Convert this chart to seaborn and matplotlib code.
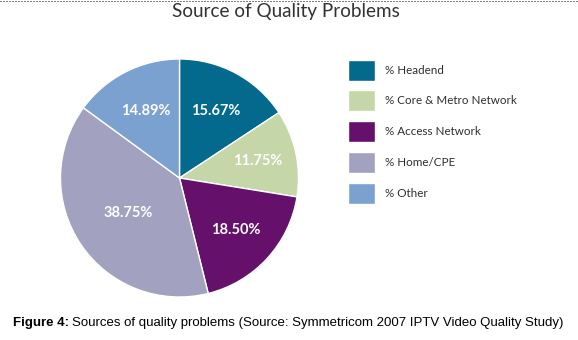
import matplotlib
matplotlib.use("Agg")
import matplotlib.pyplot as plt
import seaborn as sns
import numpy as np
from matplotlib.lines import Line2D

categories = ["% Headend", "% Core & Metro Network", "% Access Network", "% Home/CPE", "% Other"]
values = [15.67, 11.75, 18.50, 38.75, 14.89]
value_labels = ["15.67%", "11.75%", "18.50%", "38.75%", "14.89%"]
colors = ["#036a8e", "#c5d6a9", "#65106b", "#a2a1bf", "#7ba1d0"]
label_dist = [0.64, 0.67, 0.64, 0.52, 0.63]

sns.set_theme(style="white")
plt.rcParams['font.family'] = ['DejaVu Sans']

fig = plt.figure(figsize=(5.78, 3.40), dpi=100)
fig.patch.set_facecolor("white")

W, H = 578, 340
cx, cy, R = 179.5, 178, 119
ax = fig.add_axes([(cx - R) / W, (H - cy - R) / H, 2 * R / W, 2 * R / H])
wedges, _ = ax.pie(values, colors=colors, startangle=90, counterclock=False,
                   wedgeprops=dict(edgecolor="white", linewidth=1.0))
ax.set_xlim(-1, 1)
ax.set_ylim(-1, 1)
ax.set_aspect("auto")
ax.axis("off")

for w, lab, d in zip(wedges, value_labels, label_dist):
    ang = np.deg2rad((w.theta1 + w.theta2) / 2)
    ax.text(d * np.cos(ang), d * np.sin(ang), lab, ha="center", va="center",
            color="white", fontsize=10.5, fontweight="bold", family="Lato")

leg = fig.legend(wedges, categories, loc="upper left",
                 bbox_to_anchor=(348 / W, 1 - 59.5 / H), frameon=False,
                 handlelength=2.3, handleheight=2.4,
                 handletextpad=0.86, labelspacing=0.84, borderpad=0,
                 borderaxespad=0, prop=dict(family="Lato", size=8.4))
for t in leg.get_texts():
    t.set_color("#2e2e2e")

fig.text(286 / W, 1 - 12 / H, "Source of Quality Problems", ha="center", va="center",
         fontsize=13.6, color="#333333", family="Lato")

# caption
t1 = fig.text(13 / W, 1 - 323 / H, "Figure 4:", ha="left", va="center",
              fontsize=9.52, fontweight="bold", family="Liberation Sans", color="black")
fig.canvas.draw()
bb = t1.get_window_extent()
fig.text((bb.x1 + 3) / W, 1 - 323 / H,
         "Sources of quality problems (Source: Symmetricom 2007 IPTV Video Quality Study)",
         ha="left", va="center", fontsize=9.52, family="Liberation Sans", color="black")

fig.add_artist(Line2D([0, 1], [1 - 0.5 / H, 1 - 0.5 / H], transform=fig.transFigure,
                      color="black", linewidth=0.72, linestyle=(0, (1, 2))))

fig.savefig("out.png", dpi=100, facecolor="white")
